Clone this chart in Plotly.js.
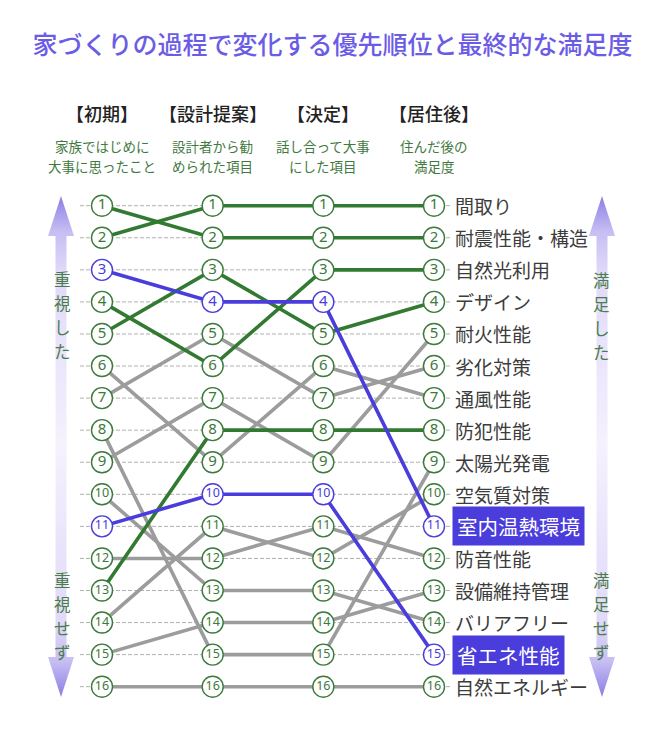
<!DOCTYPE html>
<html>
<head>
<meta charset="utf-8">
<script src="https://cdn.plot.ly/plotly-3.0.1.min.js"></script>
<style>html,body{margin:0;padding:0;background:#fff;}#chart{width:665px;height:730px;}</style>
</head>
<body>
<div id="chart"></div>
<script>
// ---- data ----
const titleText = '家づくりの過程で変化する優先順位と最終的な満足度';
const stages = ['【初期】', '【設計提案】', '【決定】', '【居住後】'];
const stageNotes1 = ['家族ではじめに', '設計者から勧', '話し合って大事', '住んだ後の'];
const stageNotes2 = ['大事に思ったこと', 'められた項目', 'にした項目', '満足度'];
const items = ['間取り', '耐震性能・構造', '自然光利用', 'デザイン', '耐火性能', '劣化対策', '通風性能', '防犯性能',
  '太陽光発電', '空気質対策', '室内温熱環境', '防音性能', '設備維持管理', 'バリアフリー', '省エネ性能', '自然エネルギー'];
const rankInitial  = [2, 1, 4, 5, 9, 7, 6, 13, 8, 14, 3, 12, 15, 10, 11, 16];
const rankProposal = [1, 2, 6, 3, 7, 5, 9, 8, 15, 11, 4, 12, 14, 13, 10, 16];
const rankDecision = [1, 2, 3, 5, 9, 7, 6, 8, 15, 12, 4, 11, 14, 13, 10, 16];
const rankAfter    = [1, 2, 3, 4, 5, 6, 7, 8, 9, 10, 11, 12, 13, 14, 15, 16];
const group = ['green', 'green', 'green', 'green', 'gray', 'gray', 'gray', 'green',
  'gray', 'gray', 'blue', 'gray', 'gray', 'gray', 'blue', 'gray'];
const leftAxisTop = '重視した';
const leftAxisBottom = '重視せず';
const rightAxisTop = '満足した';
const rightAxisBottom = '満足せず';

// ---- styles ----
const FONT = 'Noto Sans CJK JP, Noto Sans, sans-serif';
const lineColor = {green: '#327a32', gray: '#9c9c9c', blue: '#4a3ddc'};
const numColor = {green: '#3a7a3a', gray: '#3a7a3a', blue: '#4a3ddc'};
const textGreen = '#3f7a3f';
const stageIdx = stages.map((s, i) => i);
const ranks = rankAfter.map(r => r);

const traces = [];
// arrows (decoration, pixel axes)
const arrowScale = [[0, '#8a7ee4'], [0.07, '#c6bdf3'], [0.15, '#e0d9f9'], [0.5, '#f5f1fd'],
  [0.85, '#e0d9f9'], [0.93, '#c6bdf3'], [1, '#8a7ee4']];
function arrow(cx) {
  const hw = 13, sw = 5.5, top = 196, hb = 236, bb = 657, bot = 697;
  return {
    type: 'scatter', xaxis: 'x2', yaxis: 'y2', mode: 'lines', hoverinfo: 'skip', showlegend: false,
    x: [cx, cx - hw, cx - sw, cx - sw, cx - hw, cx, cx + hw, cx + sw, cx + sw, cx + hw, cx],
    y: [top, hb, hb, bb, bb, bot, bb, bb, hb, hb, top],
    fill: 'toself', line: {width: 0, color: 'rgba(0,0,0,0)'},
    fillgradient: {type: 'vertical', colorscale: arrowScale}
  };
}
traces.push(arrow(61));
traces.push(arrow(602));

// lines: gray first, then green, then blue
['gray', 'green', 'blue'].forEach(g => {
  items.forEach((name, i) => {
    if (group[i] !== g) return;
    traces.push({
      type: 'scatter', mode: 'lines', hoverinfo: 'skip', showlegend: false,
      x: stageIdx, y: [rankInitial[i], rankProposal[i], rankDecision[i], rankAfter[i]],
      line: {color: lineColor[g], width: 3.6}
    });
  });
});
// circled rank markers
items.forEach((name, i) => {
  const ys = [rankInitial[i], rankProposal[i], rankDecision[i], rankAfter[i]];
  const c = numColor[group[i]];
  traces.push({
    type: 'scatter', mode: 'markers+text', showlegend: false, name: name,
    x: stageIdx, y: ys,
    marker: {size: 21, color: '#ffffff', line: {width: 1.4, color: c}},
    text: ys.map(String), textposition: 'middle center',
    textfont: {family: 'Noto Sans, sans-serif', size: ys.map(v => v >= 10 ? 12.5 : 15), color: c},
    hovertemplate: name + ': %{y}<extra></extra>'
  });
});

const shapes = ranks.map(r => ({
  type: 'line', xref: 'x2', yref: 'y', x0: 80, x1: 452, y0: r, y1: r, layer: 'below',
  line: {color: '#b0b0b0', width: 1, dash: '4px,2px'}
}));

const annotations = [];
stages.forEach((s, i) => {
  annotations.push({xref: 'x', yref: 'y2', x: i, y: 113, text: s, showarrow: false,
    font: {family: FONT, size: 18, color: '#222', weight: 500}, xanchor: 'center', yanchor: 'middle'});
  annotations.push({xref: 'x', yref: 'y2', x: i, y: 146, text: stageNotes1[i], showarrow: false,
    font: {family: FONT, size: 13.5, color: textGreen}, xanchor: 'center', yanchor: 'middle'});
  annotations.push({xref: 'x', yref: 'y2', x: i, y: 166, text: stageNotes2[i], showarrow: false,
    font: {family: FONT, size: 13.5, color: textGreen}, xanchor: 'center', yanchor: 'middle'});
});
items.forEach((name, i) => {
  const hl = group[i] === 'blue';
  annotations.push({
    xref: 'x', yref: 'y', x: 3, y: rankAfter[i], text: name, showarrow: false,
    xanchor: 'left', yanchor: 'middle', xshift: hl ? 18 : 19,
    font: {family: FONT, size: hl ? 20.5 : 19, color: hl ? '#ffffff' : '#3c3c3c'},
    bgcolor: hl ? '#4a3ddc' : 'rgba(0,0,0,0)', borderpad: hl ? 4 : 1
  });
});
// vertical side captions, one character per annotation
[[62, 279, leftAxisTop], [62, 580, leftAxisBottom],
 [601, 280, rightAxisTop], [601, 580, rightAxisBottom]].forEach(a => {
  Array.from(a[2]).forEach((ch, k) => {
    annotations.push({xref: 'x2', yref: 'y2', x: a[0], y: a[1] + k * 24, text: ch, showarrow: false,
      xanchor: 'center', yanchor: 'middle', borderpad: 0,
      font: {family: FONT, size: 16.5, color: '#4a7d4a'}});
  });
});

const layout = {
  width: 665, height: 730, margin: {l: 0, r: 0, t: 0, b: 0},
  paper_bgcolor: '#ffffff', plot_bgcolor: '#ffffff',
  title: {text: titleText, x: 0.5, xanchor: 'center', y: 1 - 45 / 730, yanchor: 'middle',
    font: {family: FONT, size: 25, color: '#6b5ce6', weight: 500}},
  xaxis: {range: [-0.92169, 5.08735], visible: false, fixedrange: true},
  yaxis: {range: [17.3503, -5.4147], visible: false, fixedrange: true},
  xaxis2: {range: [0, 665], overlaying: 'x', visible: false, fixedrange: true},
  yaxis2: {range: [730, 0], overlaying: 'y', visible: false, fixedrange: true},
  shapes: shapes, annotations: annotations, showlegend: false
};
Plotly.newPlot('chart', traces, layout, {displayModeBar: false, staticPlot: true});
</script>
</body>
</html>
